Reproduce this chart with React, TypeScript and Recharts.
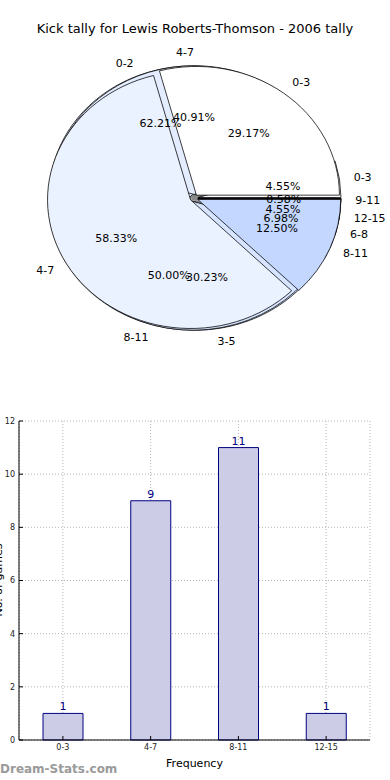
import { PieChart, Pie, Cell, BarChart, Bar, XAxis, YAxis, CartesianGrid, LabelList } from 'recharts';

// kick counts grouped three different ways
const quarterNames = ['0-3', '4-7', '8-11', '12-15'];
const quarterCounts = [1, 9, 11, 1];
const halfNames = ['0-3', '4-7', '8-11'];
const halfCounts = [7, 14, 3];
const thirdNames = ['0-2', '3-5', '6-8', '9-11'];
const thirdCounts = [107, 52, 12, 1];

const yTicks = [0, 2, 4, 6, 8, 10, 12];

const quarterColors = ['#ffffff', '#e4edff', '#d6e4ff', '#2a2a2a'];
const halfColors = ['#ffffff', '#ebf2ff', '#c3d7ff'];
const thirdColors = ['#e4edff', '#d6e4ff', '#c3d7ff', '#222222'];

const FONT = '"DejaVu Sans", sans-serif';
const CX = 194;
const CY = 198;
const R = 143;
const SQUASH = 0.9; // axes weren't square, so the pie is an ellipse
const EXPLODE = 4;

type Row = { name: string; value: number };

const toRows = (names: string[], values: number[]): Row[] =>
  names.map((name, i) => ({ name, value: values[i] }));

const pieLayers = [
  { id: 'thirds', rows: toRows(thirdNames, thirdCounts), colors: thirdColors },
  { id: 'quarters', rows: toRows(quarterNames, quarterCounts), colors: quarterColors },
  { id: 'halves', rows: toRows(halfNames, halfCounts), colors: halfColors },
];

const barRows = toRows(quarterNames, quarterCounts);

function midAngles(rows: Row[]) {
  const total = rows.reduce((s, r) => s + r.value, 0);
  let acc = 0;
  return rows.map((r) => {
    const mid = ((acc + r.value / 2) / total) * 360;
    acc += r.value;
    return mid;
  });
}

function renderPieLabel(props: any) {
  const a = (props.midAngle * Math.PI) / 180;
  const cos = Math.cos(a);
  const sin = Math.sin(a);
  const nameR = EXPLODE + R * 1.1;
  const pctR = EXPLODE + R * 0.6;
  return (
    <g>
      <text
        x={CX + nameR * cos}
        y={CY - nameR * sin * SQUASH}
        textAnchor={cos >= 0 ? 'start' : 'end'}
        dominantBaseline="central"
        fontSize={11}
        fontFamily={FONT}
        fill="#000"
      >
        {props.name}
      </text>
      <text
        x={CX + pctR * cos}
        y={CY - pctR * sin * SQUASH}
        textAnchor="middle"
        dominantBaseline="central"
        fontSize={11}
        fontFamily={FONT}
        fill="#000"
      >
        {(props.percent * 100).toFixed(2)}%
      </text>
    </g>
  );
}

export default function App() {
  return (
    <div
      style={{
        position: 'absolute',
        left: 0,
        top: 0,
        width: 390,
        height: 780,
        background: '#fff',
        fontFamily: FONT,
        overflow: 'hidden',
      }}
    >
      <style>{`
        .pie-box .recharts-pie-sector {
          transform-box: view-box;
          transform-origin: ${CX}px ${CY}px;
          transform: scaleY(${SQUASH});
        }
      `}</style>
      <div
        style={{
          position: 'absolute',
          top: 21,
          left: 0,
          width: 390,
          textAlign: 'center',
          fontSize: 13,
          color: '#000',
        }}
      >
        Kick tally for Lewis Roberts-Thomson - 2006 tally
      </div>

      <div className="pie-box" style={{ position: 'absolute', left: 0, top: 0 }}>
        <PieChart width={390} height={390} margin={{ top: 0, right: 0, bottom: 0, left: 0 }}>
          {/* shadow */}
          <Pie
            data={pieLayers[2].rows}
            dataKey="value"
            nameKey="name"
            cx={CX - 2}
            cy={CY + 3}
            outerRadius={R + 1}
            startAngle={0}
            endAngle={360}
            isAnimationActive={false}
            label={false}
            labelLine={false}
          >
            {pieLayers[2].rows.map((_, j) => (
              <Cell key={j} fill="#8a8a8a" stroke="none" />
            ))}
          </Pie>
          {pieLayers.flatMap((layer) => {
            const mids = midAngles(layer.rows);
            return layer.rows.map((_, i) => {
              const rad = (mids[i] * Math.PI) / 180;
              return (
                <Pie
                  key={`${layer.id}-${i}`}
                  data={layer.rows}
                  dataKey="value"
                  nameKey="name"
                  cx={CX + EXPLODE * Math.cos(rad)}
                  cy={CY - EXPLODE * Math.sin(rad)}
                  outerRadius={R}
                  startAngle={0}
                  endAngle={360}
                  isAnimationActive={false}
                  label={false}
                  labelLine={false}
                >
                  {layer.rows.map((__, j) => (
                    <Cell
                      key={j}
                      fill={j === i ? layer.colors[j] : 'none'}
                      stroke={j === i ? '#000' : 'none'}
                      strokeWidth={0.8}
                    />
                  ))}
                </Pie>
              );
            });
          })}
          {pieLayers.map((layer) => (
            <Pie
              key={`${layer.id}-labels`}
              data={layer.rows}
              dataKey="value"
              nameKey="name"
              cx={CX}
              cy={CY}
              outerRadius={R}
              startAngle={0}
              endAngle={360}
              isAnimationActive={false}
              label={renderPieLabel}
              labelLine={false}
            >
              {layer.rows.map((_, j) => (
                <Cell key={j} fill="none" stroke="none" />
              ))}
            </Pie>
          ))}
        </PieChart>
      </div>

      <div style={{ position: 'absolute', left: 0, top: 410 }}>
        <BarChart width={390} height={370} data={barRows} margin={{ top: 11, right: 20, left: 0, bottom: 0 }}>
          <CartesianGrid stroke="#b5b5b5" strokeDasharray="1 2" />
          <XAxis
            dataKey="name"
            height={40}
            tickSize={-4}
            tickMargin={8}
            tickLine={{ stroke: '#000' }}
            axisLine={{ stroke: '#000' }}
            tick={{ fontSize: 8, fill: '#222', fontFamily: FONT }}
            label={{ value: 'Frequency', position: 'insideBottom', offset: 13, fontSize: 11, fill: '#000', fontFamily: FONT }}
          />
          <XAxis xAxisId="top" dataKey="name" orientation="top" height={0} tick={false} tickLine={false} axisLine={{ stroke: '#000' }} />
          <YAxis
            domain={[0, 12]}
            ticks={yTicks}
            width={19}
            tickSize={-4}
            tickMargin={8}
            tickLine={{ stroke: '#000' }}
            axisLine={{ stroke: '#000' }}
            tick={{ fontSize: 8, fill: '#222', fontFamily: FONT }}
            label={{
              content: () => (
                <text x={2} y={170} transform="rotate(-90 2 170)" textAnchor="middle" fontSize={11} fontFamily={FONT} fill="#000">
                  No. of games
                </text>
              ),
            }}
          />
          <YAxis yAxisId="right" orientation="right" domain={[0, 12]} width={0} tick={false} tickLine={false} axisLine={{ stroke: '#000' }} />
          <Bar dataKey="value" barSize={40} fill="#ccccE6" stroke="#000080" strokeWidth={1} isAnimationActive={false}>
            <LabelList dataKey="value" position="top" offset={3} fill="#000080" fontSize={11} fontFamily={FONT} />
          </Bar>
        </BarChart>
      </div>

      <div
        style={{
          position: 'absolute',
          left: 0,
          top: 762,
          fontSize: 12,
          fontWeight: 'bold',
          color: '#9a9a9a',
          lineHeight: '14px',
        }}
      >
        Dream-Stats.com
      </div>
    </div>
  );
}
